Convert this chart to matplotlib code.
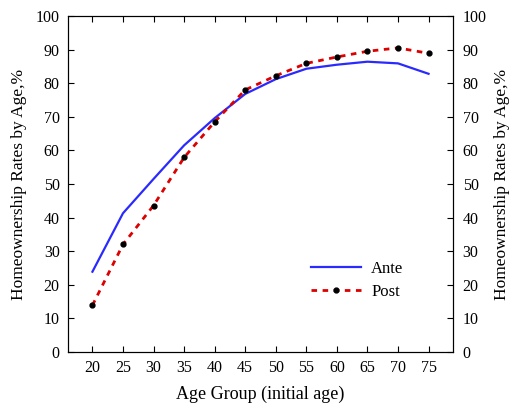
import numpy as np
import matplotlib.pyplot as plt

plt.rcParams['font.family'] = ['Liberation Serif', 'DejaVu Serif']

# data
ages = [20, 25, 30, 35, 40, 45, 50, 55, 60, 65, 70, 75]
ante = [23.9, 41.3, 51.5, 61.5, 69.6, 76.8, 81.2, 84.3, 85.5, 86.4, 85.9, 82.8]
post = [13.9, 32.0, 43.6, 57.9, 68.5, 78.0, 82.2, 85.9, 87.8, 89.5, 90.5, 88.9]

fig = plt.figure(figsize=(5.1, 4.07), dpi=100)
ax = fig.add_axes([0.1333, 0.1351, 0.7549, 0.8256])

ax.plot(ages, ante, color='#2a2aff', lw=1.6, label='Ante')
ax.plot(ages, post, color='#dd0000', lw=2, dashes=(2, 2), marker='o',
        markersize=3.5, markerfacecolor='black', markeredgecolor='black', label='Post')

ax.set_xlim(16, 79)
ax.set_ylim(0, 100)
ax.set_xticks(ages)
ax.set_yticks(np.arange(0, 101, 10))
ax.tick_params(direction='in', top=True, right=True, labelsize=11.5, length=4, pad=6)
ax.set_xlabel('Age Group (initial age)', fontsize=13, labelpad=7)
ax.set_ylabel('Homeownership Rates by Age,%', fontsize=12.5, labelpad=6)

ax2 = ax.twinx()
ax2.set_ylim(0, 100)
ax2.set_yticks(np.arange(0, 101, 10))
ax2.tick_params(direction='in', labelsize=11.5, length=4, pad=7)
ax2.set_ylabel('Homeownership Rates by Age,%', fontsize=12.5, labelpad=5)

ax.legend(loc='lower right', bbox_to_anchor=(0.91, 0.11), frameon=False,
          numpoints=1, fontsize=12, handlelength=3.0, handletextpad=0.6,
          labelspacing=0.45)

fig.savefig('out.png', dpi=100)
